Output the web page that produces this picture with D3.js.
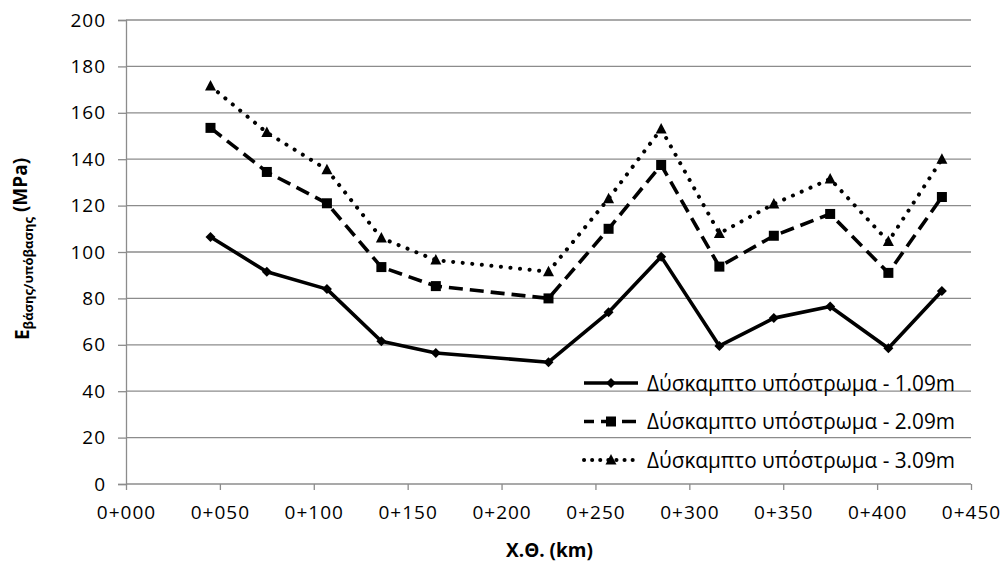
<!DOCTYPE html>
<html>
<head>
<meta charset="utf-8">
<script src="https://cdn.jsdelivr.net/npm/d3@7"></script>
<style>
    body { margin: 0; background: #fff; }
    text { font-family: "Open Sans", "Noto Sans", sans-serif; fill: #000; }
</style>
</head>
<body>
<div id="chart"></div>
<script>
// chainage (m) of each measurement point
const chainages = [45, 75, 107, 136, 165, 225, 257, 285, 316, 345, 375, 406, 434.5];

const seriesNames = [
    "Δύσκαμπτο υπόστρωμα - 1.09m",
    "Δύσκαμπτο υπόστρωμα - 2.09m",
    "Δύσκαμπτο υπόστρωμα - 3.09m"
];
const values109 = [106.5, 91.5, 84, 61.5, 56.5, 52.5, 74, 98, 59.5, 71.5, 76.5, 58.5, 83.2];
const values209 = [153.5, 134.5, 121, 93.5, 85.3, 80, 110, 137.5, 93.7, 107, 116.4, 91, 123.7];
const values309 = [171.5, 151.5, 135.5, 106, 96.5, 91.5, 123, 153, 108, 120.7, 131.5, 104.5, 140];

const xTicks = [0, 50, 100, 150, 200, 250, 300, 350, 400, 450];
const xTickLabels = ["0+000", "0+050", "0+100", "0+150", "0+200", "0+250", "0+300", "0+350", "0+400", "0+450"];
const yTicks = [0, 20, 40, 60, 80, 100, 120, 140, 160, 180, 200];

const series = [
    { name: seriesNames[0], values: values109, dash: null, marker: "diamond" },
    { name: seriesNames[1], values: values209, dash: "14,7", marker: "square" },
    { name: seriesNames[2], values: values309, dash: "0.1,9.5", marker: "triangle" }
];

const W = 1004, H = 562;
const margin = { top: 20, right: 33, bottom: 78, left: 126 };
const width = W - margin.left - margin.right;
const height = H - margin.top - margin.bottom;
const gridColor = "#8c8c8c";

const svg = d3.select("#chart").append("svg")
    .attr("width", W)
    .attr("height", H);
const g = svg.append("g").attr("transform", `translate(${margin.left},${margin.top})`);

const x = d3.scaleLinear().domain([0, 450]).range([0, width]);
const y = d3.scaleLinear().domain([0, 200]).range([height, 0]);

// gridlines + y axis
const yAxis = g.append("g")
    .call(d3.axisLeft(y).tickValues(yTicks).tickSize(8).tickPadding(12));
yAxis.select(".domain").attr("stroke", gridColor).attr("stroke-width", 1.3);
yAxis.selectAll(".tick line").attr("stroke", gridColor).attr("stroke-width", 1.3);
yAxis.selectAll(".tick text").attr("font-family", null)
    .style("font-size", "19px").style("letter-spacing", "1px").attr("fill", "#000");
g.append("g").selectAll("line")
    .data(yTicks.filter(d => d > 0))
    .join("line")
    .attr("x1", 0).attr("x2", width)
    .attr("y1", d => y(d)).attr("y2", d => y(d))
    .attr("stroke", gridColor).attr("stroke-width", 1.3);

// x axis
const xAxis = g.append("g")
    .attr("transform", `translate(0,${height})`)
    .call(d3.axisBottom(x).tickValues(xTicks).tickSize(6).tickPadding(16)
        .tickFormat((d, i) => xTickLabels[i]));
xAxis.select(".domain").attr("stroke", gridColor).attr("stroke-width", 1.3).attr("d", `M0,0H${width}`);
xAxis.selectAll(".tick line").attr("stroke", gridColor).attr("stroke-width", 1.3);
xAxis.selectAll(".tick text").attr("font-family", null)
    .style("font-size", "19px").style("letter-spacing", "1px").attr("fill", "#000");

// lines
const line = d3.line().x((d, i) => x(chainages[i])).y(d => y(d));
series.forEach(s => {
    g.append("path")
        .datum(s.values)
        .attr("fill", "none")
        .attr("stroke", "#000")
        .attr("stroke-width", s.marker === "triangle" ? 4 : 3.6)
        .attr("stroke-linecap", s.marker === "triangle" ? "round" : "butt")
        .attr("stroke-linejoin", "round")
        .attr("stroke-dasharray", s.dash)
        .attr("d", line);
});

function drawMarker(sel, type, cx, cy) {
    if (type === "diamond") {
        sel.append("path").attr("d", `M${cx},${cy - 5}L${cx + 5},${cy}L${cx},${cy + 5}L${cx - 5},${cy}Z`).attr("fill", "#000");
    } else if (type === "square") {
        sel.append("rect").attr("x", cx - 5).attr("y", cy - 5).attr("width", 10).attr("height", 10).attr("fill", "#000");
    } else {
        sel.append("path").attr("d", `M${cx},${cy - 6}L${cx + 5.5},${cy + 4.5}L${cx - 5.5},${cy + 4.5}Z`).attr("fill", "#000");
    }
}

series.forEach(s => {
    const mg = g.append("g");
    s.values.forEach((v, i) => drawMarker(mg, s.marker, x(chainages[i]), y(v)));
});

// legend
const legend = svg.append("g").attr("transform", "translate(584,383)");
series.forEach((s, i) => {
    const row = legend.append("g").attr("transform", `translate(0,${i * 38.5})`);
    row.append("line")
        .attr("x1", 0).attr("x2", 54).attr("y1", 0).attr("y2", 0)
        .attr("stroke", "#000").attr("stroke-width", s.marker === "triangle" ? 4 : 3.6)
        .attr("stroke-linecap", s.marker === "triangle" ? "round" : "butt")
        .attr("stroke-dasharray", s.dash ? (s.marker === "square" ? "14,7" : "0.1,8") : null)
        .attr("stroke-dashoffset", s.marker === "square" ? 4 : 0);
    drawMarker(row, s.marker, 27, 0);
    row.append("text")
        .attr("x", 63).attr("y", 0).attr("dy", "0.36em")
        .attr("textLength", 308).attr("lengthAdjust", "spacingAndGlyphs")
        .style("font-size", "21px")
        .text(s.name);
});

// axis titles
svg.append("text")
    .attr("x", margin.left + width / 2 + 1)
    .attr("y", 550).attr("dy", "0.36em")
    .attr("text-anchor", "middle")
    .style("font-size", "19px").style("font-weight", "bold")
    .text("Χ.Θ. (km)");

const yt = svg.append("text")
    .attr("transform", "translate(22,249) rotate(-90)")
    .attr("text-anchor", "middle")
    .attr("dy", "0.36em")
    .style("font-size", "19px").style("font-weight", "bold");
yt.append("tspan").text("E");
yt.append("tspan").attr("dy", "0.3em").style("font-size", "13px").text("βάσης/υπόβασης");
yt.append("tspan").attr("dy", "-0.3em").text(" (MPa)");
</script>
</body>
</html>
